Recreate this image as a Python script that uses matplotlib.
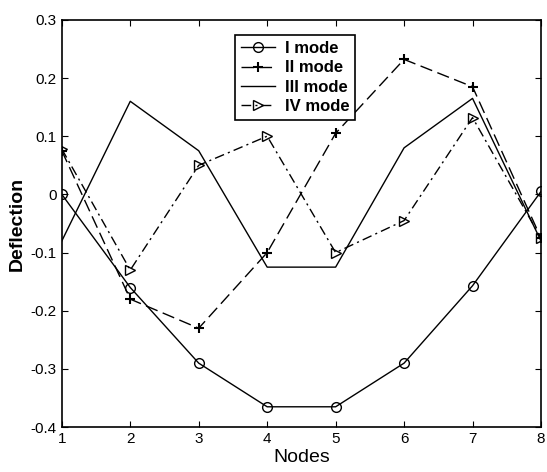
import numpy as np
from matplotlib import pyplot as plt

plt.rcParams['font.family'] = ['Liberation Sans Narrow', 'Liberation Sans', 'DejaVu Sans']

nodes = [1, 2, 3, 4, 5, 6, 7, 8]
mode_1 = [0.0, -0.16, -0.29, -0.365, -0.365, -0.29, -0.157, 0.005]
mode_2 = [0.075, -0.18, -0.23, -0.10, 0.105, 0.232, 0.185, -0.075]
mode_3 = [-0.08, 0.16, 0.075, -0.125, -0.125, 0.08, 0.165, -0.08]
mode_4 = [0.078, -0.13, 0.05, 0.10, -0.10, -0.045, 0.132, -0.075]
labels = ["I mode", "II mode", "III mode", "IV mode"]

fig = plt.figure(figsize=(5.47, 4.72), dpi=100)
ax = fig.add_axes([0.113, 0.095, 0.876, 0.863])

ax.plot(nodes, mode_1, color="k", lw=1, marker="o", ms=7, mfc="none", label=labels[0])
ax.plot(nodes, mode_2, color="k", lw=1, ls=(0, (9, 4)), marker="+", ms=7, mew=1.5, label=labels[1])
ax.plot(nodes, mode_3, color="k", lw=1, label=labels[2])
ax.plot(nodes, mode_4, color="k", lw=1, ls=(0, (7, 3, 1.5, 3)), marker=">", ms=7, mfc="none", label=labels[3])

ax.set_xlim(1, 8)
ax.set_ylim(-0.4, 0.3)
ax.set_xticks(nodes)
ax.set_yticks(np.round(np.arange(-0.4, 0.31, 0.1), 1))
ax.set_yticklabels(["-0.4", "-0.3", "-0.2", "-0.1", "0", "0.1", "0.2", "0.3"])
ax.tick_params(direction="in", top=True, right=True, labelsize=11, length=4)
for s in ax.spines.values():
    s.set_linewidth(1.2)

ax.set_xlabel("Nodes", fontsize=14, labelpad=2)
ax.set_ylabel("Deflection", fontsize=14, fontweight="bold")

leg = ax.legend(loc="upper center", bbox_to_anchor=(0.487, 0.982), fancybox=False, edgecolor="k",
                prop={"weight": "bold", "size": 12}, handlelength=2.0, borderpad=0.35,
                labelspacing=0.25, handletextpad=0.6, framealpha=1)
leg.get_frame().set_linewidth(1.2)

plt.savefig("out.png", dpi=100)
